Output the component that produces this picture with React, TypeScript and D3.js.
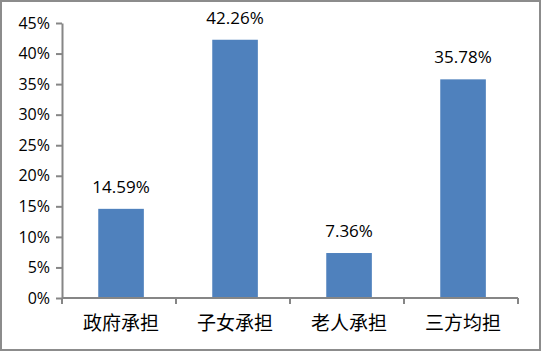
import React, { useEffect, useRef } from 'react';
import * as d3 from 'd3';

const categories = ['政府承担', '子女承担', '老人承担', '三方均担'];
const shares = [14.59, 42.26, 7.36, 35.78];
const yTicks = [0, 5, 10, 15, 20, 25, 30, 35, 40, 45];

const W = 542;
const H = 352;

export default function App() {
  const svgRef = useRef<SVGSVGElement>(null);

  useEffect(() => {
    const svg = d3.select(svgRef.current);
    svg.selectAll('*').remove();

    const margin = { top: 23, right: 24, bottom: 54, left: 62 };

    svg.append('rect')
      .attr('x', 1).attr('y', 1)
      .attr('width', W - 3).attr('height', H - 3)
      .attr('fill', 'white')
      .attr('stroke', '#8c8c8c')
      .attr('stroke-width', 2);

    const x = d3.scaleBand()
      .domain(categories)
      .range([margin.left, W - margin.right])
      .paddingInner(0.6)
      .paddingOuter(0.3)
      .align(0.53);

    const y = d3.scaleLinear()
      .domain([0, 45])
      .range([H - margin.bottom, margin.top]);

    svg.selectAll('rect.bar')
      .data(shares)
      .enter()
      .append('rect')
      .attr('class', 'bar')
      .attr('x', (d, i) => x(categories[i])!)
      .attr('width', x.bandwidth())
      .attr('y', d => y(d))
      .attr('height', d => y(0) - y(d))
      .attr('fill', '#4f81bd');

    svg.selectAll('text.val')
      .data(shares)
      .enter()
      .append('text')
      .attr('class', 'val')
      .attr('x', (d, i) => x(categories[i])! + x.bandwidth() / 2)
      .attr('y', d => y(d) - 16)
      .attr('text-anchor', 'middle')
      .attr('font-family', 'Open Sans, sans-serif')
      .attr('font-size', 17)
      .attr('fill', '#000')
      .text(d => d.toFixed(2) + '%');

    const yAxis = d3.axisLeft(y)
      .tickValues(yTicks)
      .tickSize(6)
      .tickSizeOuter(0)
      .tickPadding(6)
      .tickFormat(d => d + '%');

    const gy = svg.append('g')
      .attr('transform', `translate(${margin.left},0)`)
      .call(yAxis);
    gy.selectAll('line, path').attr('stroke', '#868686').attr('stroke-width', 2);
    gy.selectAll('text')
      .attr('font-family', 'Open Sans, sans-serif')
      .attr('font-size', 16)
      .attr('fill', '#000');

    const xb = d3.scaleLinear()
      .domain([0, categories.length])
      .range([margin.left, W - margin.right]);
    const gx = svg.append('g')
      .attr('transform', `translate(0,${H - margin.bottom})`);
    gx.append('line')
      .attr('x1', margin.left).attr('x2', W - margin.right)
      .attr('stroke', '#868686').attr('stroke-width', 2);
    gx.selectAll('line.tick')
      .data(d3.range(categories.length + 1))
      .enter()
      .append('line')
      .attr('class', 'tick')
      .attr('x1', d => xb(d)).attr('x2', d => xb(d))
      .attr('y1', 0).attr('y2', 6)
      .attr('stroke', '#868686').attr('stroke-width', 2);
    gx.selectAll('text')
      .data(categories)
      .enter()
      .append('text')
      .attr('x', d => x(d)! + x.bandwidth() / 2)
      .attr('y', 32)
      .attr('text-anchor', 'middle')
      .attr('font-family', 'Noto Sans CJK SC, sans-serif')
      .attr('font-size', 19)
      .attr('fill', '#000')
      .text(d => d);
  }, []);

  return (
    <div style={{ position: 'absolute', left: 0, top: 0 }}>
      <svg ref={svgRef} width={W} height={H} style={{ display: 'block' }} />
    </div>
  );
}
